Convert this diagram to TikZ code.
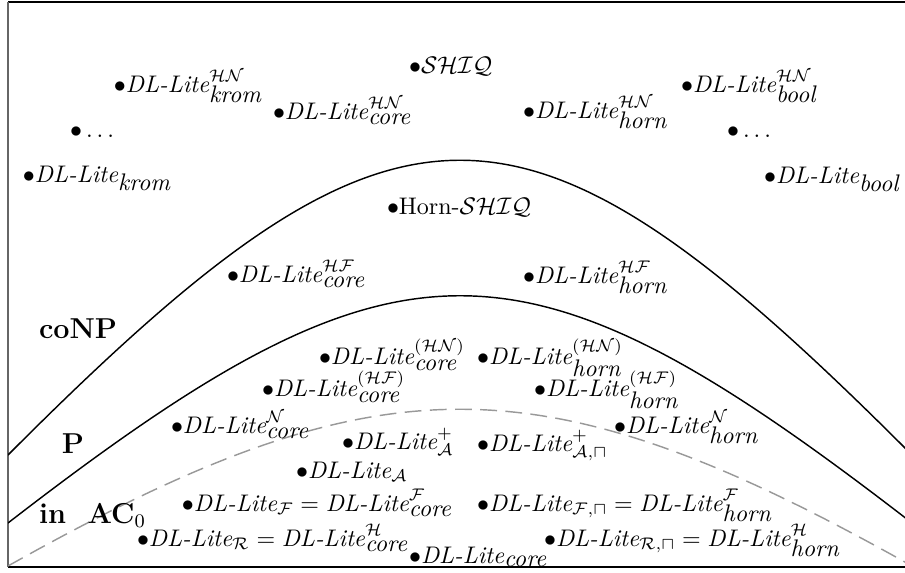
\documentclass[tikz,border=0pt]{standalone}
\begin{document}
\begin{tikzpicture}[x=0.4167pt,y=-0.4167pt,
  lbl/.style={anchor=base west,inner sep=0pt,outer sep=0pt},
  cls/.style={anchor=base west,inner sep=0pt,outer sep=0pt,font=\large\bfseries},
  bound/.style={line width=0.6pt},
  acbound/.style={line width=0.6pt,gray!80,dash pattern=on 7pt off 3.5pt}]
\newcommand{\DLL}{\textit{DL-Lite}}
\useasboundingbox (0,0) rectangle (905,573);
% frame
\draw[line width=0.5pt] (905,2) -- (8,2);
\draw[line width=0.8pt,black!60] (8,2) -- (8,567);
\draw[line width=0.5pt] (8,567) -- (905,567);
% boundaries
\begin{scope}
\clip (8,2) rectangle (905,567);
\draw[bound] (8,455) .. controls (400,62) and (520,62) .. (912,455);
\draw[bound] (8,523) .. controls (400,220) and (520,220) .. (912,523);
\draw[acbound] (8,566) .. controls (380,357) and (540,357) .. (912,566);
\end{scope}
% class labels
\node[cls] (coNP) at (39,338) {coNP};
\node[cls] (P) at (62,453) {P};
\node[cls] (AC) at (39,523) {in\ \ AC$_0$};
% languages
\node[lbl] (shiq) at (409,73) {$\bullet\mathcal{SHIQ}$};
\node[lbl] (kromHN) at (114,92) {$\bullet\DLL^{\mathcal{HN}}_{\textit{krom}}$};
\node[lbl] (coreHN) at (273,119) {$\bullet\DLL^{\mathcal{HN}}_{\textit{core}}$};
\node[lbl] (dotsL) at (70,137) {$\bullet\ldots$};
\node[lbl] (krom) at (23,182) {$\bullet\DLL_{\textit{krom}}$};
\node[lbl] (hornHN) at (523,118) {$\bullet\DLL^{\mathcal{HN}}_{\textit{horn}}$};
\node[lbl] (boolHN) at (681,92) {$\bullet\DLL^{\mathcal{HN}}_{\textit{bool}}$};
\node[lbl] (dotsR) at (727,137) {$\bullet\ldots$};
\node[lbl] (bool) at (764,183) {$\bullet\DLL_{\textit{bool}}$};
\node[lbl] (hornSHIQ) at (387,214) {$\bullet$Horn-$\mathcal{SHIQ}$};
\node[lbl] (coreHF) at (227,282) {$\bullet\DLL^{\mathcal{HF}}_{\textit{core}}$};
\node[lbl] (hornHF) at (523,283) {$\bullet\DLL^{\mathcal{HF}}_{\textit{horn}}$};
\node[lbl] (coreHNp) at (319,364) {$\bullet\DLL^{(\mathcal{HN})}_{\textit{core}}$};
\node[lbl] (hornHNp) at (477,364) {$\bullet\DLL^{(\mathcal{HN})}_{\textit{horn}}$};
\node[lbl] (coreHFp) at (262,396) {$\bullet\DLL^{(\mathcal{HF})}_{\textit{core}}$};
\node[lbl] (hornHFp) at (534,396) {$\bullet\DLL^{(\mathcal{HF})}_{\textit{horn}}$};
\node[lbl] (coreN) at (171,433) {$\bullet\DLL^{\mathcal{N}}_{\textit{core}}$};
\node[lbl] (hornN) at (614,433) {$\bullet\DLL^{\mathcal{N}}_{\textit{horn}}$};
\node[lbl] (Aplus) at (342,449) {$\bullet\DLL^{+}_{\mathcal{A}}$};
\node[lbl] (Aplussq) at (477,451) {$\bullet\DLL^{+}_{\mathcal{A},\sqcap}$};
\node[lbl] (A) at (296,478) {$\bullet\DLL_{\mathcal{A}}$};
\node[lbl] (F) at (182,511) {$\bullet\DLL_{\mathcal{F}}=\DLL^{\mathcal{F}}_{\textit{core}}$};
\node[lbl] (Fsq) at (477,511) {$\bullet\DLL_{\mathcal{F},\sqcap}=\DLL^{\mathcal{F}}_{\textit{horn}}$};
\node[lbl] (R) at (137,546) {$\bullet\DLL_{\mathcal{R}}=\DLL^{\mathcal{H}}_{\textit{core}}$};
\node[lbl] (core) at (409,563) {$\bullet\DLL_{\textit{core}}$};
\node[lbl] (Rsq) at (544,546) {$\bullet\DLL_{\mathcal{R},\sqcap}=\DLL^{\mathcal{H}}_{\textit{horn}}$};
\end{tikzpicture}
\end{document}
